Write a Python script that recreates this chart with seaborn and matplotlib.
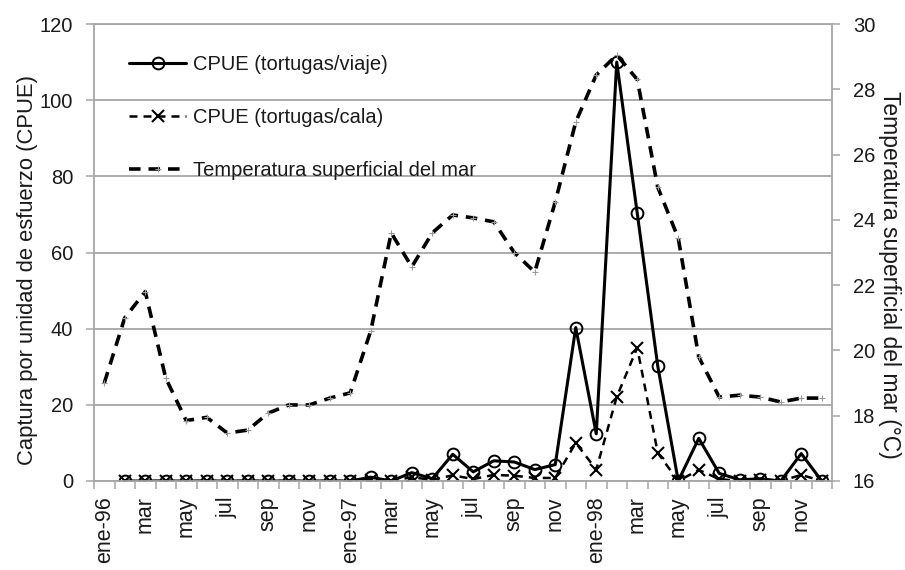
import numpy as np
import pandas as pd
import matplotlib
matplotlib.use("Agg")
import matplotlib.pyplot as plt
import seaborn as sns
from matplotlib import font_manager as fm

# ---------------- data ----------------
months = ["ene-96", "feb", "mar", "abr", "may", "jun", "jul", "ago", "sep", "oct", "nov", "dic",
          "ene-97", "feb", "mar", "abr", "may", "jun", "jul", "ago", "sep", "oct", "nov", "dic",
          "ene-98", "feb", "mar", "abr", "may", "jun", "jul", "ago", "sep", "oct", "nov", "dic"]

cpue_viaje = [np.nan, 0, 0, 0, 0, 0, 0, 0, 0, 0, 0, 0,
              0, 1.0, 0, 2.2, 0.6, 7.0, 2.4, 5.3, 5.0, 3.0, 4.3, 40.3,
              12.4, 110, 70.3, 30.2, 0, 11.2, 2.0, 0.3, 0.6, 0, 7.2, 0]

cpue_cala = [np.nan, 0, 0, 0, 0, 0, 0, 0, 0, 0, 0, 0,
             0, 0.3, 0, 1.0, 0.3, 1.5, 0.5, 1.6, 1.4, 0.8, 0.8, 10.0,
             3.0, 22.1, 35.0, 7.4, 0, 2.9, 0.5, 0, 0.3, 0, 1.6, 0]

temperatura = [19.0, 21.0, 21.8, 19.15, 17.85, 17.95, 17.47, 17.56, 18.08, 18.33, 18.33, 18.54,
               18.7, 20.6, 23.6, 22.56, 23.6, 24.15, 24.06, 23.94, 23.0, 22.4, 24.55, 27.0,
               28.44, 29.05, 28.3, 25.0, 23.44, 19.8, 18.57, 18.63, 18.57, 18.42, 18.54, 18.54]

labels = ["CPUE (tortugas/viaje)", "CPUE (tortugas/cala)", "Temperatura superficial del mar"]
ylabel_left = "Captura por unidad de esfuerzo (CPUE)"
ylabel_right = "Temperatura superficial del mar (°C)"

# ---------------- style ----------------
sns.set_theme(style="white")
names = {f.name for f in fm.fontManager.ttflist}
NARROW = "Liberation Sans Narrow" if "Liberation Sans Narrow" in names else "Liberation Sans"
plt.rcParams["font.family"] = ["Liberation Sans", "DejaVu Sans"]
GRID = "#a6a6a6"
TXT = "#1a1a1a"

df = pd.DataFrame({"mes": np.arange(len(months)),
                   "viaje": cpue_viaje, "cala": cpue_cala, "temp": temperatura})

fig = plt.figure(figsize=(9.05, 5.70), dpi=100)
ax = fig.add_axes([94 / 905, 1 - 481 / 570, (832 - 94) / 905, (481 - 24) / 570])
ax2 = ax.twinx()

sns.lineplot(data=df, x="mes", y="viaje", ax=ax, color="black", linewidth=2.2,
             marker="o", markersize=8.5, markerfacecolor="none", markeredgecolor="black",
             markeredgewidth=1.4, label=labels[0], legend=False)
sns.lineplot(data=df, x="mes", y="cala", ax=ax, color="black", linewidth=1.8,
             linestyle=(0, (3.2, 2.4)), marker="x", markersize=8, markeredgecolor="black",
             markeredgewidth=1.5, label=labels[1], legend=False)
sns.lineplot(data=df, x="mes", y="temp", ax=ax2, color="black", linewidth=2.6,
             linestyle=(0, (3.2, 2.2)), marker="+", markersize=5, markeredgecolor="#9a9a9a",
             markeredgewidth=0.8, label=labels[2], legend=False)

# ---------------- axes ----------------
ax.set_xlim(-0.5, 35.5)
ax.set_ylim(0, 120)
ax2.set_ylim(16, 30)
ax.set_yticks(np.arange(0, 121, 20))
ax2.set_yticks(np.arange(16, 31, 2))

ax.set_xticks(np.arange(0, 36, 2))
ax.set_xticklabels(months[::2], rotation=90, fontsize=15.5, color=TXT)
ax.set_xticks(np.arange(-0.5, 36, 1), minor=True)
ax.tick_params(axis="x", which="major", length=0, pad=11)
ax.tick_params(axis="x", which="minor", length=6, width=1.1, color=GRID, direction="out", bottom=True)
ax.tick_params(axis="y", length=6, width=1.1, color=GRID, direction="out", left=True, pad=9,
               labelsize=14.5, labelcolor=TXT)
ax2.tick_params(axis="y", length=6, width=1.1, color=GRID, direction="out", right=True, pad=9,
                labelsize=14.5, labelcolor=TXT)
for t in ax.get_yticklabels() + ax2.get_yticklabels():
    t.set_fontfamily(NARROW)

ax.yaxis.grid(True, color=GRID, linewidth=1.3)
ax.xaxis.grid(False)
ax2.grid(False)

for s in ["left", "bottom", "top"]:
    ax.spines[s].set_color(GRID)
    ax.spines[s].set_linewidth(1.3)
ax.spines["right"].set_visible(False)
for s in ["left", "bottom", "top"]:
    ax2.spines[s].set_visible(False)
ax2.spines["right"].set_color(GRID)
ax2.spines["right"].set_linewidth(1.3)

ax.set_xlabel("")
ax.set_ylabel(ylabel_left, fontsize=15.8, color=TXT)
ax.yaxis.set_label_coords(-0.076, 0.462)
ax2.set_ylabel(ylabel_right, fontsize=16.5, color=TXT, rotation=270, va="bottom")
ax2.yaxis.set_label_coords(1.063, 0.451)

h1, l1 = ax.get_legend_handles_labels()
h2, l2 = ax2.get_legend_handles_labels()
leg = ax2.legend(h1 + h2, l1 + l2, loc="upper left", bbox_to_anchor=(0.023, 0.972),
                 frameon=False, handlelength=2.85, handletextpad=0.3, labelspacing=1.7,
                 prop={"family": NARROW, "size": 14.5})
for t in leg.get_texts():
    t.set_color(TXT)

fig.savefig("out.png", dpi=100)
